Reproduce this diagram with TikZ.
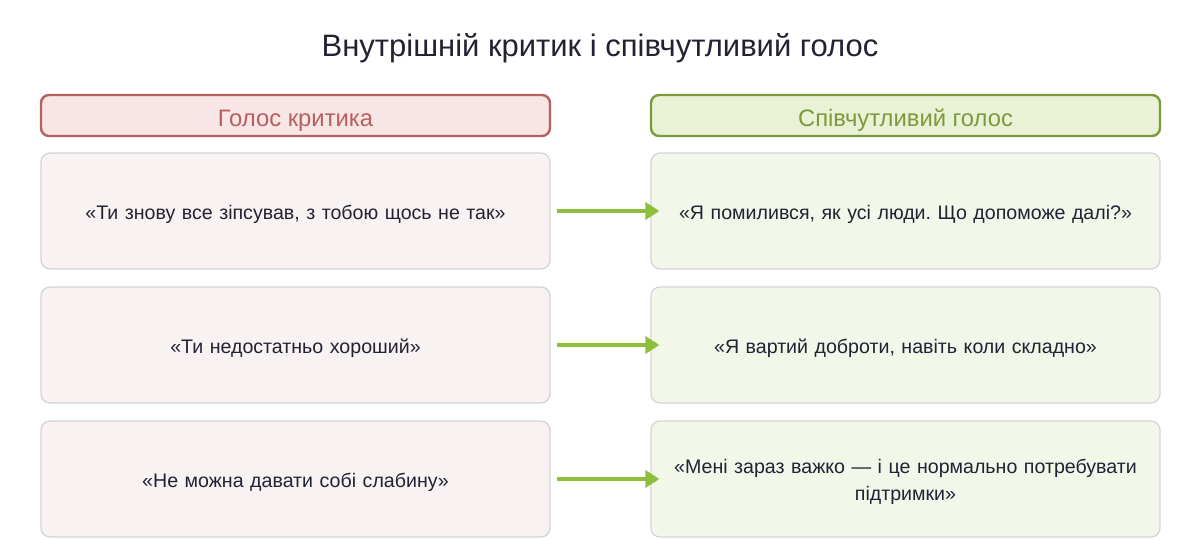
\documentclass[tikz,border=0pt]{standalone}
\usepackage{fontspec}
\setmainfont{Liberation Sans}
\usetikzlibrary{arrows.meta}
\definecolor{critline}{HTML}{B85F5F}
\definecolor{critfill}{HTML}{F8E5E5}
\definecolor{critbox}{HTML}{F8F2F2}
\definecolor{compline}{HTML}{7B9A3C}
\definecolor{compfill}{HTML}{EAF2D6}
\definecolor{compbox}{HTML}{F3F7EA}
\definecolor{boxline}{HTML}{D3D3DA}
\definecolor{arrowc}{HTML}{8DBE3C}
\definecolor{txt}{HTML}{222233}
\frenchspacing
\tikzset{
  x=1pt, y=1pt,
  hdr/.style={draw, line width=2.4pt, rounded corners=8pt, minimum width=509pt, minimum height=41pt, inner sep=0pt},
  hdrtext/.style={inner sep=0pt, yshift=-5pt, font=\fontsize{23.8}{28}\selectfont},
  crithdr/.style={hdr, draw=critline, fill=critfill},
  comphdr/.style={hdr, draw=compline, fill=compfill},
  card/.style={draw=boxline, line width=1.2pt, rounded corners=9pt, minimum width=509pt, minimum height=116pt, inner sep=0pt},
  cardtext/.style={inner sep=0pt, yshift=-3pt, text=txt, align=center, text width=490pt, font=\fontsize{19.6}{27}\selectfont},
  critcard/.style={card, fill=critbox},
  compcard/.style={card, fill=compbox},
  conn/.style={draw=arrowc, line width=4pt, -{Triangle[length=14pt,width=17pt]}}
}
\begin{document}
\begin{tikzpicture}
\useasboundingbox (0,0) rectangle (1200,-540);
\node[text=txt, font=\fontsize{31}{36}\selectfont] (title) at (600,-48) {Внутрішній критик і співчутливий голос};
\node[crithdr] (h1) at (295.5,-115.5) {};
\node[hdrtext, text=critline] (h1t) at (h1.center) {Голос критика};
\node[comphdr] (h2) at (905.5,-115.5) {};
\node[hdrtext, text=compline] (h2t) at (h2.center) {Співчутливий голос};
\node[critcard] (c1) at (295.5,-211) {};
\node[critcard] (c2) at (295.5,-345) {};
\node[critcard] (c3) at (295.5,-479) {};
\node[compcard] (p1) at (905.5,-211) {};
\node[compcard] (p2) at (905.5,-345) {};
\node[compcard] (p3) at (905.5,-479) {};
\node[cardtext] (c1t) at (c1.center) {«Ти знову все зіпсував, з тобою щось не так»};
\node[cardtext] (c2t) at (c2.center) {«Ти недостатньо хороший»};
\node[cardtext] (c3t) at (c3.center) {«Не можна давати собі слабину»};
\node[cardtext] (p1t) at (p1.center) {«Я помилився, як усі люди. Що допоможе далі?»};
\node[cardtext] (p2t) at (p2.center) {«Я вартий доброти, навіть коли складно»};
\node[cardtext] (p3t) at (p3.center) {«Мені зараз важко — і це нормально потребувати\\підтримки»};
\draw[conn] ([xshift=6pt]c1.east) -- ([xshift=9pt]p1.west);
\draw[conn] ([xshift=6pt]c2.east) -- ([xshift=9pt]p2.west);
\draw[conn] ([xshift=6pt]c3.east) -- ([xshift=9pt]p3.west);
\end{tikzpicture}
\end{document}
